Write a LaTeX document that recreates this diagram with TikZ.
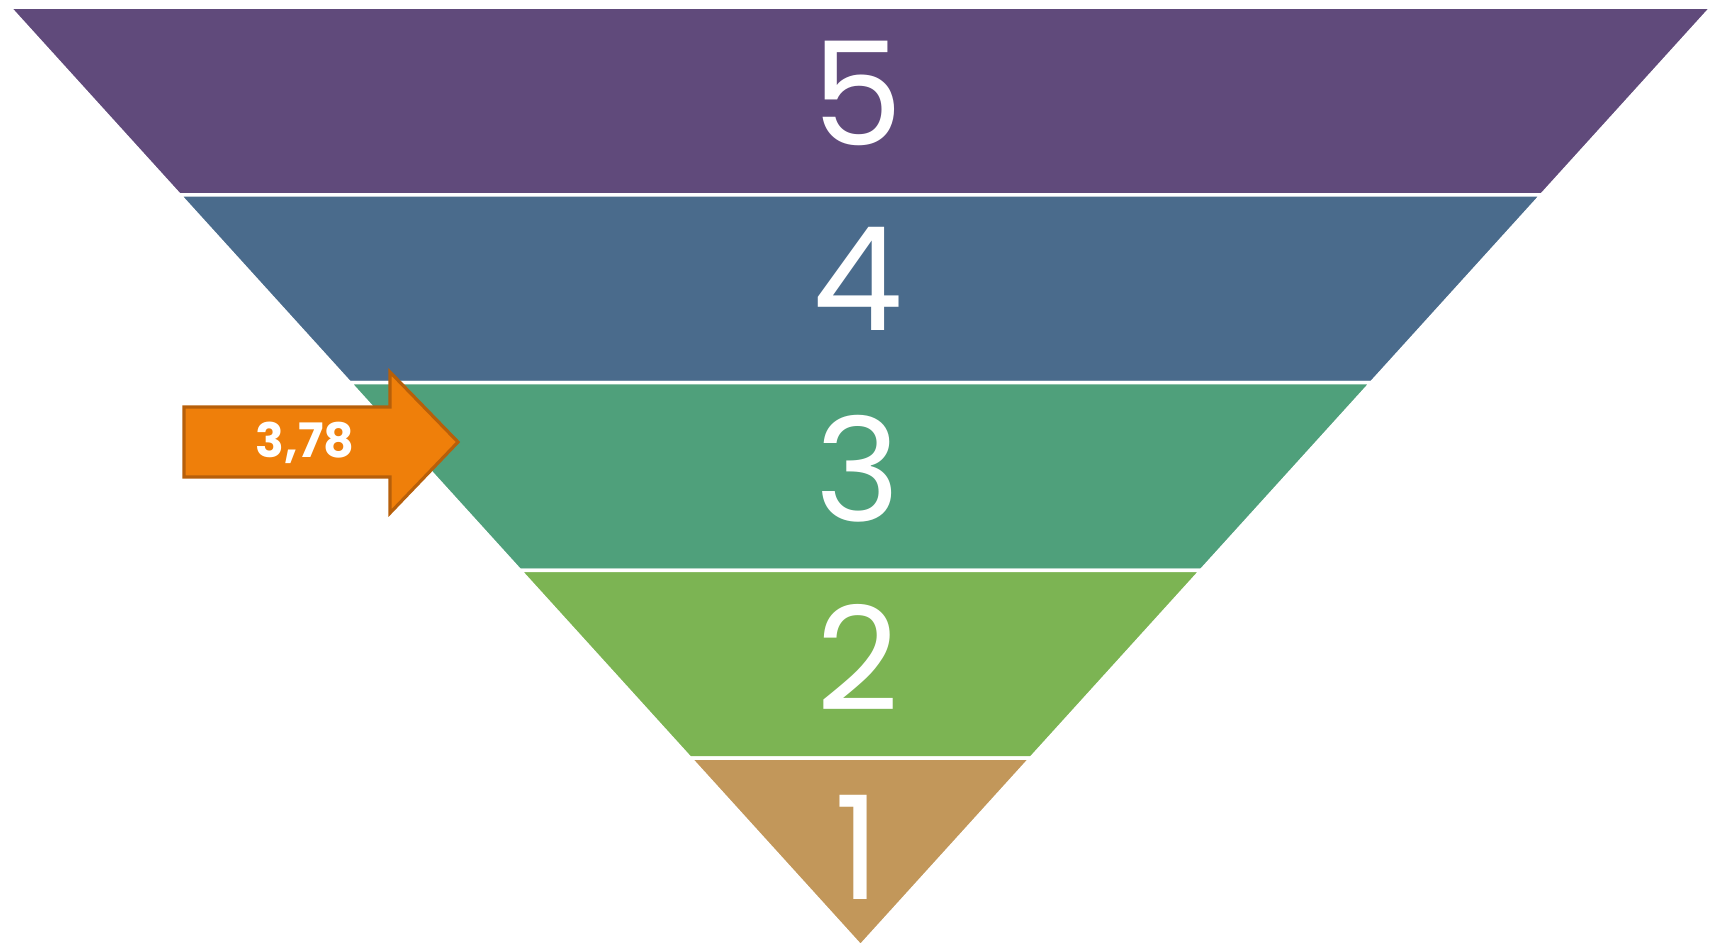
\documentclass[tikz,border=0pt]{standalone}
\usepackage{fontspec}
\setmainfont{Poppins}
\usepackage{tikz}
\usetikzlibrary{calc}
\definecolor{bandfive}{RGB}{96,74,123}
\definecolor{bandfour}{RGB}{74,107,140}
\definecolor{bandthree}{RGB}{79,160,123}
\definecolor{bandtwo}{RGB}{124,180,83}
\definecolor{bandone}{RGB}{194,151,90}
\definecolor{pointer}{RGB}{239,127,10}
\definecolor{pointerdark}{RGB}{183,95,10}

\begin{document}
\begin{tikzpicture}[x=0.01cm, y=-0.01cm,
    numlabel/.style={text=white, font=\fontsize{41}{41}\selectfont, inner sep=0pt},
    vallabel/.style={text=white, font=\fontsize{13.5}{13.5}\selectfont\bfseries, inner sep=0pt}]
    \useasboundingbox (0,0) rectangle (1719,947);
    \coordinate (L) at (9,7);
    \coordinate (R) at (1712,7);
    \coordinate (T) at (860.5,946);

    % Bands, top to bottom
    \foreach \c [count=\i from 0] in {bandfive,bandfour,bandthree,bandtwo,bandone} {
        \pgfmathsetmacro{\fa}{\i/5}
        \pgfmathsetmacro{\fb}{(\i+1)/5}
        \fill[\c, draw=white, line width=1pt]
            ($(L)!\fa!(T)$) -- ($(R)!\fa!(T)$) -- ($(R)!\fb!(T)$) -- ($(L)!\fb!(T)$) -- cycle;
    }

    % Level numbers
    \node[numlabel] (n5) at (858,93) {5};
    \node[numlabel] (n4) at (858,279) {4};
    \node[numlabel] (n3) at (858,469) {3};
    \node[numlabel] (n2) at (858,657) {2};
    \node[numlabel] (n1) at (858,847) {1};

    % Pointer arrow
    \fill[pointer, draw=pointerdark, line width=0.9pt]
        (184,407) -- (390,407) -- (390,372) -- (458,442) -- (390,513) -- (390,477) -- (184,477) -- cycle;
    \node[vallabel] (val) at (305,443) {3,78};
\end{tikzpicture}
\end{document}
